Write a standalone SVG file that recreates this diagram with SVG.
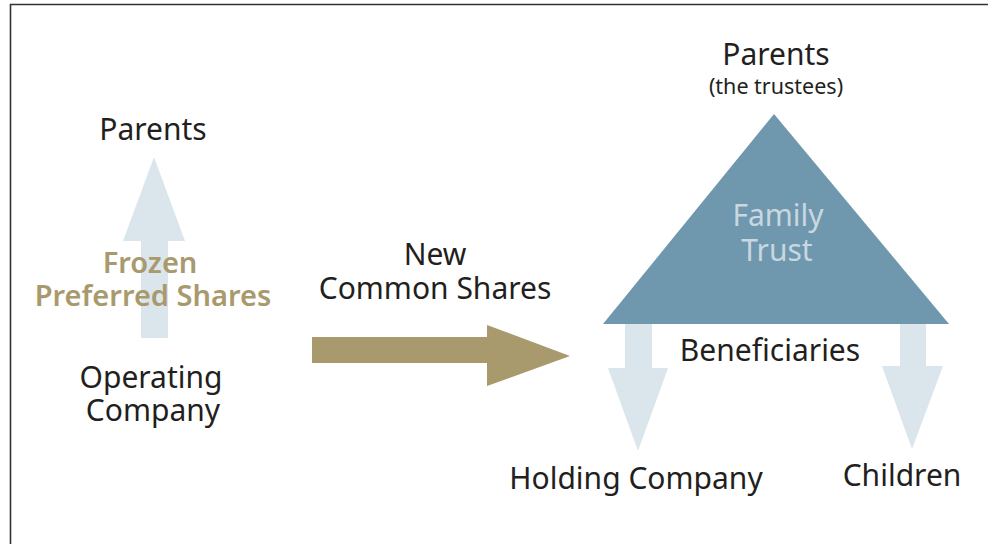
<svg xmlns="http://www.w3.org/2000/svg" width="988" height="544" viewBox="0 0 988 544">
<style>
.t{font-family:"Noto Sans","Open Sans","DejaVu Sans",sans-serif;fill:#231f20;text-anchor:middle;font-size:30px}
.s{font-size:21.5px}
.g{fill:#a89a6c;font-weight:600;font-size:29px}
.l{fill:#c9d7e1}
.lb{fill:#dbe5ec}
</style>
<rect width="988" height="544" fill="#fff"/>
<path d="M10.5 544V4.5H988" fill="none" stroke="#333" stroke-width="1.6"/>
<g id="connectors">
<polygon class="lb" points="141,338 168,338 168,241 185,241 154,157 123,241 141,241"/>
<polygon fill="#a89a6c" points="312,337 487,337 487,325 570,356 487,386 487,363 312,363"/>
<polygon class="lb" points="625,324 652,324 652,368 668,368 638,451 608,368 625,368"/>
<polygon class="lb" points="900,324 926,324 926,366 943,366 912,449 882,366 900,366"/>
</g>
<g id="parents-left"><text class="t" x="153" y="140">Parents</text></g>
<g id="frozen"><text class="t g" x="150" y="273">Frozen</text><text class="t g" x="153" y="306">Preferred Shares</text></g>
<g id="opco"><text class="t" x="151" y="388">Operating</text><text class="t" x="153" y="421">Company</text></g>
<g id="newcommon"><text class="t" x="435" y="265">New</text><text class="t" x="435" y="299">Common Shares</text></g>
<g id="trust">
<polygon fill="#6f97ae" points="774,114 949,324 603,324"/>
<text class="t l" x="778" y="226">Family</text><text class="t l" x="777" y="261">Trust</text>
</g>
<g id="parents-trustees"><text class="t" x="776" y="65">Parents</text><text class="t s" x="776" y="94">(the trustees)</text></g>
<g id="beneficiaries"><text class="t" x="770" y="361">Beneficiaries</text></g>
<g id="holdco"><text class="t" x="636" y="489">Holding Company</text></g>
<g id="children"><text class="t" x="902" y="486">Children</text></g>
</svg>
